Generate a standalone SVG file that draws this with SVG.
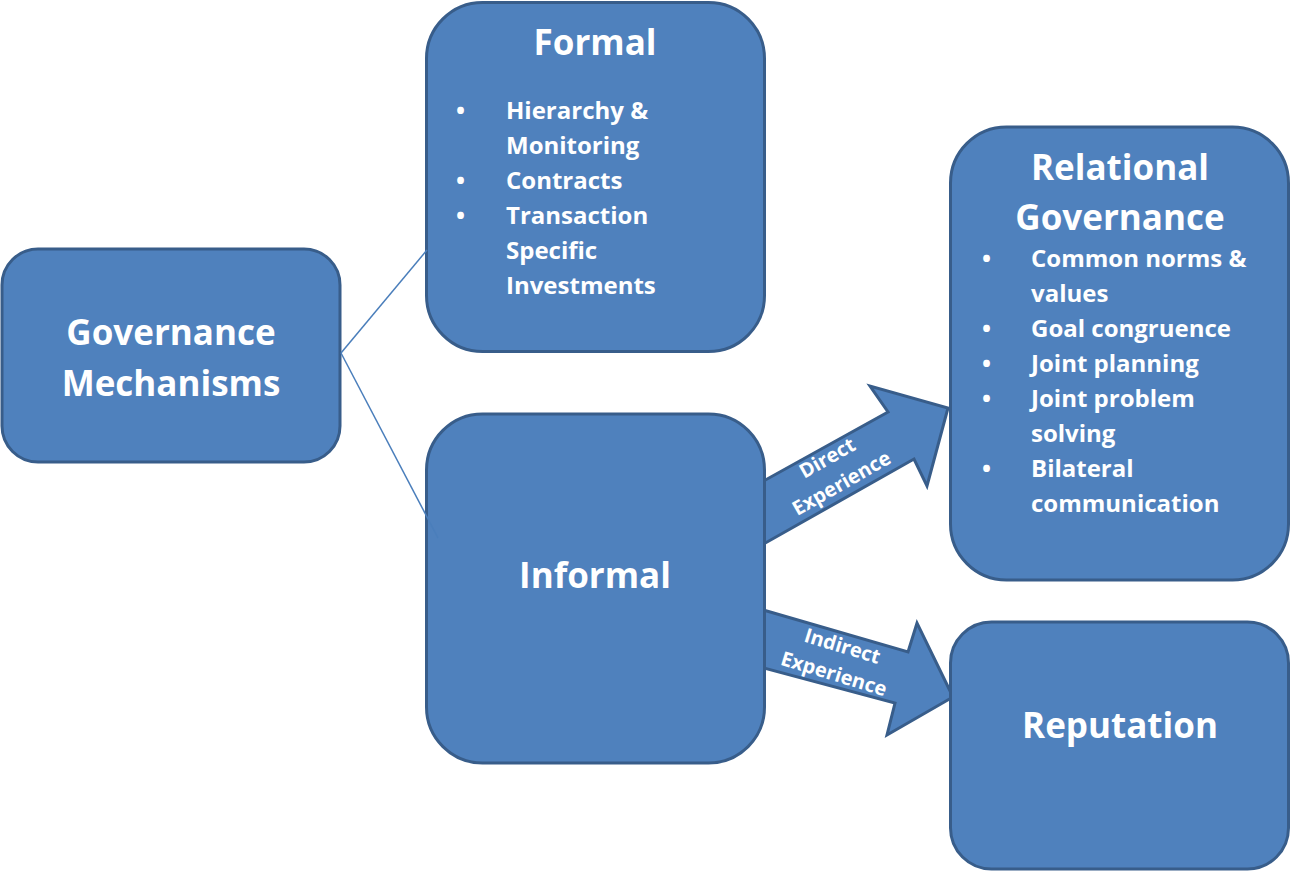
<svg xmlns="http://www.w3.org/2000/svg" width="1291" height="872" viewBox="0 0 1291 872">
<style>
.box{fill:#4f81bd;stroke:#385d8a;stroke-width:3}
.arrow{fill:#4f81bd;stroke:#385d8a;stroke-width:3;stroke-linejoin:miter}
.t{font-family:"Open Sans","Liberation Sans",sans-serif;font-weight:bold;fill:#ffffff}
.title{font-size:35px;text-anchor:middle}
.item{font-size:24px}
.lbl{font-size:20px;text-anchor:middle}
.conn{stroke:#4a7ebb;stroke-width:1.5;fill:none}
</style>
<rect width="1291" height="872" fill="#ffffff"/>
<g id="arrows">
<g id="arrow-direct">
<polygon class="arrow" points="760,483 888,412 870,386 948,408 927,486 914,459 760,546"/>
<g transform="translate(838,477) rotate(-29.6)">
<text class="t lbl" x="0" y="-15">Direct</text>
<text class="t lbl" x="0" y="14">Experience</text>
</g>
</g>
<g id="arrow-indirect">
<polygon class="arrow" points="760,609 908,652 917,623 953,697 887,735 895,703 760,667"/>
<g transform="translate(836,667) rotate(17)">
<text class="t lbl" x="0" y="-15">Indirect</text>
<text class="t lbl" x="0" y="14">Experience</text>
</g>
</g>
</g>
<g id="node-governance">
<rect class="box" x="2" y="249" width="338" height="213" rx="36" ry="36"/>
<text class="t title" x="171" y="345">Governance</text>
<text class="t title" x="171" y="396">Mechanisms</text>
</g>
<g id="node-formal">
<rect class="box" x="426.5" y="2.5" width="338" height="349" rx="56" ry="56"/>
<text class="t title" x="595" y="55">Formal</text>
<text class="t item" x="456" y="119">•</text>
<text class="t item" x="506" y="119">Hierarchy &amp;</text>
<text class="t item" x="506" y="154">Monitoring</text>
<text class="t item" x="456" y="189">•</text>
<text class="t item" x="506" y="189">Contracts</text>
<text class="t item" x="456" y="224">•</text>
<text class="t item" x="506" y="224">Transaction</text>
<text class="t item" x="506" y="259">Specific</text>
<text class="t item" x="506" y="294">Investments</text>
</g>
<g id="node-informal">
<rect class="box" x="426.5" y="414" width="338" height="349" rx="56" ry="56"/>
<text class="t title" x="595" y="588">Informal</text>
</g>
<g id="node-relational">
<rect class="box" x="950.5" y="127" width="338" height="453" rx="56" ry="56"/>
<text class="t title" x="1120" y="180">Relational</text>
<text class="t title" x="1120" y="230">Governance</text>
<text class="t item" x="982" y="267">•</text>
<text class="t item" x="1031" y="267">Common norms &amp;</text>
<text class="t item" x="1031" y="302">values</text>
<text class="t item" x="982" y="337">•</text>
<text class="t item" x="1031" y="337">Goal congruence</text>
<text class="t item" x="982" y="372">•</text>
<text class="t item" x="1031" y="372">Joint planning</text>
<text class="t item" x="982" y="407">•</text>
<text class="t item" x="1031" y="407">Joint problem</text>
<text class="t item" x="1031" y="442">solving</text>
<text class="t item" x="982" y="477">•</text>
<text class="t item" x="1031" y="477">Bilateral</text>
<text class="t item" x="1031" y="512">communication</text>
</g>
<g id="node-reputation">
<rect class="box" x="950.5" y="622" width="338" height="247" rx="41" ry="41"/>
<text class="t title" x="1120" y="738">Reputation</text>
</g>
<g id="connectors">
<line class="conn" x1="341" y1="353" x2="427" y2="250"/>
<line class="conn" x1="341" y1="353" x2="438" y2="538"/>
</g>
</svg>
